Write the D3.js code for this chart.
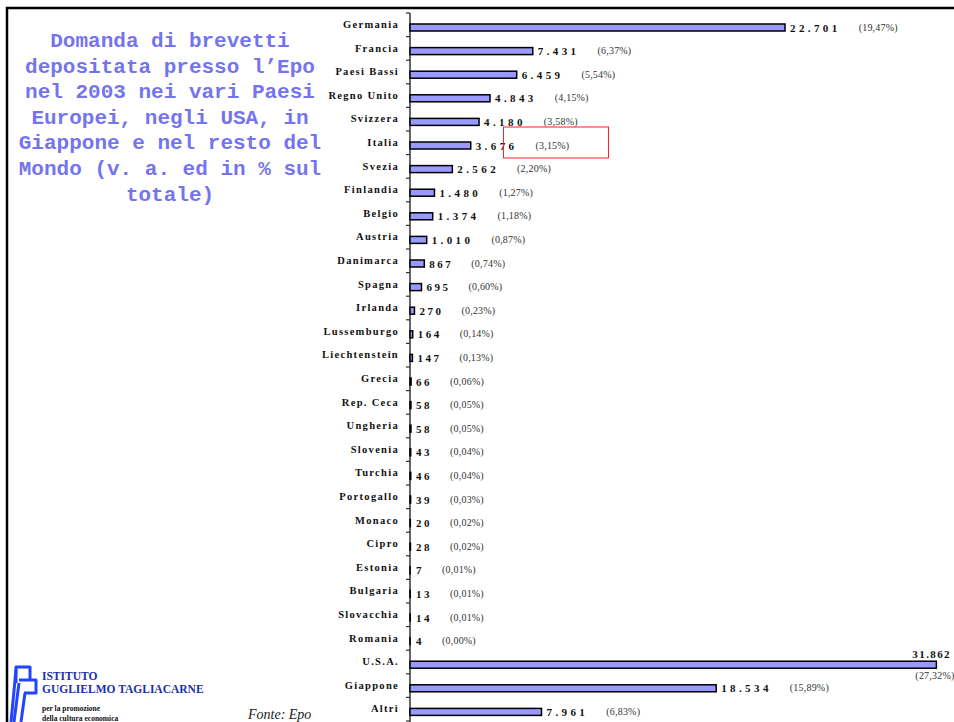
<!DOCTYPE html>
<html>
<head>
<meta charset="utf-8">
<script src="https://cdn.jsdelivr.net/npm/d3@7"></script>
<style>
  body {margin:0; background:#fff;}
  svg {display:block;}
</style>
</head>
<body>
<div id="chart"></div>
<script>

var width = 954, height = 722;

// categories (top to bottom) and values
var paesi = ["Germania","Francia","Paesi Bassi","Regno Unito","Svizzera","Italia","Svezia",
	"Finlandia","Belgio","Austria","Danimarca","Spagna","Irlanda","Lussemburgo","Liechtenstein",
	"Grecia","Rep. Ceca","Ungheria","Slovenia","Turchia","Portogallo","Monaco","Cipro",
	"Estonia","Bulgaria","Slovacchia","Romania","U.S.A.","Giappone","Altri"];

var domande = [22701,7431,6459,4843,4180,3676,2562,1480,1374,1010,867,695,270,164,147,
	66,58,58,43,46,39,20,28,7,13,14,4,31862,18534,7961];

var quote = [19.47,6.37,5.54,4.15,3.58,3.15,2.20,1.27,1.18,0.87,0.74,0.60,0.23,0.14,0.13,
	0.06,0.05,0.05,0.04,0.04,0.03,0.02,0.02,0.01,0.01,0.01,0.00,27.32,15.89,6.83];

var titolo = ["Domanda di brevetti","depositata presso l\u2019Epo","nel 2003 nei vari Paesi",
	"Europei, negli USA, in","Giappone e nel resto del","Mondo (v. a. ed in % sul","totale)"];

var evidenziato = "Italia";

var data = paesi.map(function(p,i){ return {paese:p, v:domande[i], q:quote[i]}; });

var it = d3.formatLocale({decimal:",", thousands:".", grouping:[3], currency:["","\u20ac"]});
var fmtV = it.format(",d"),
	fmtQ = it.format(".2f");

var x0 = 410,
	y0 = 13,
	step = 23.6;

var x = d3.scaleLinear()
	.domain([0, 32000])
	.range([x0, x0 + 32000*0.01652]);

var y = d3.scaleBand()
	.domain(paesi)
	.range([y0, y0 + step*paesi.length]);

var serif = "'Liberation Serif','Times New Roman',serif";

var svg = d3.select('#chart').append('svg')
	.attr('width',width)
	.attr('height',height)
	.style('background','#fff');

//---frame---
svg.append('path')
	.attr('d','M7,'+height+'V8H'+width)
	.style('fill','none')
	.style('stroke','#000')
	.style('stroke-width',2.5);

//---title---
svg.append('text')
	.attr('x',170)
	.attr('y',47)
	.style('font-family',"'Liberation Mono','Courier New',monospace")
	.style('font-weight','bold')
	.style('font-size','21px')
	.style('fill','#7474ee')
	.attr('text-anchor','middle')
	.selectAll('tspan')
	.data(titolo)
	.enter().append('tspan')
		.attr('x',170)
		.attr('dy',function(d,i){ return i==0 ? 0 : 25.6; })
		.text(function(d){ return d; });

//---ticks on the band edges---
svg.append('g').selectAll('line')
	.data(d3.range(paesi.length + 1))
	.enter().append('line')
		.attr('x1',x0-4)
		.attr('x2',x0)
		.attr('y1',function(i){ return y0 + i*y.step(); })
		.attr('y2',function(i){ return y0 + i*y.step(); })
		.style('stroke','#333')
		.style('stroke-width',1.2);

//---axis line---
svg.append('line')
	.attr('x1',x0).attr('x2',x0)
	.attr('y1',y0).attr('y2',height)
	.style('stroke','#333')
	.style('stroke-width',1.5);

//---category labels---
svg.append('g').selectAll('text')
	.data(data)
	.enter().append('text')
		.attr('x',x0-11)
		.attr('y',function(d){ return y(d.paese) + 15; })
		.attr('text-anchor','end')
		.style('font-family',serif)
		.style('font-weight','bold')
		.style('font-size','10.5px')
		.style('letter-spacing','1.3px')
		.style('fill','#111')
		.text(function(d){ return d.paese; });

//---bars---
svg.append('g').selectAll('rect')
	.data(data)
	.enter().append('rect')
		.attr('x',x(0))
		.attr('y',function(d){ return y(d.paese) + 11; })
		.attr('width',function(d){ return x(d.v) - x(0); })
		.attr('height',7)
		.style('fill','#9999ff')
		.style('stroke','#000')
		.style('stroke-width',1.5);

//---value and share labels---
var labels = svg.append('g');

data.forEach(function(d){
	var cy = y(d.paese) + 14.5,
		xe = x(d.v),
		fuori = xe + 80 > width;

	var tv = labels.append('text')
		.attr('x', fuori ? xe - 24 : Math.max(xe, x0 + 1) + 5)
		.attr('y', fuori ? cy - 7 : cy + 4)
		.style('font-family',serif)
		.style('font-weight','bold')
		.style('font-size','11px')
		.style('letter-spacing', fuori ? '1.4px' : (d.v < 1000 ? '2.5px' : '3.4px'))
		.style('fill','#111')
		.text(fmtV(d.v));

	var xq = fuori ? xe - 21 : +tv.attr('x') + tv.node().getComputedTextLength() + 18;

	labels.append('text')
		.attr('x',xq)
		.attr('y', fuori ? cy + 14 : cy + 3)
		.style('font-family',serif)
		.style('font-size','10px')
		.style('letter-spacing','0.2px')
		.style('fill','#333')
		.text('(' + fmtQ(d.q) + '%)');

	if (d.paese == evidenziato) {
		labels.append('rect')
			.attr('x',xq - 32)
			.attr('y',y(d.paese) - 4)
			.attr('width',105)
			.attr('height',31)
			.style('fill','none')
			.style('stroke','#ff2020')
			.style('stroke-width',1);
	}
});

//---source---
svg.append('text')
	.attr('x',248)
	.attr('y',719)
	.style('font-family',serif)
	.style('font-style','italic')
	.style('font-size','14px')
	.style('fill','#222')
	.text('Fonte: Epo');

//---logo---
var logo = svg.append('g')
	.style('fill','none')
	.style('stroke','#2244ff')
	.style('stroke-width',3)
	.style('stroke-linejoin','round');

logo.append('path').attr('d','M16,683V667H30V681');
logo.append('path').attr('d','M19,680H36V693H24');
logo.append('path').attr('d','M16,670L11,722');
logo.append('path').attr('d','M25,693L21,722');
logo.append('path').attr('d','M19,683L14,722');

var logoTxt = svg.append('g')
	.style('font-family',serif)
	.style('font-weight','bold');

logoTxt.append('text')
	.attr('x',42).attr('y',680)
	.style('font-size','11.5px')
	.style('fill','#1c30a8')
	.text('ISTITUTO');
logoTxt.append('text')
	.attr('x',42).attr('y',693)
	.style('font-size','11.5px')
	.style('fill','#1c30a8')
	.text('GUGLIELMO TAGLIACARNE');
logoTxt.append('text')
	.attr('x',42).attr('y',711)
	.style('font-size','7.5px')
	.style('fill','#111')
	.text('per la promozione');
logoTxt.append('text')
	.attr('x',42).attr('y',721)
	.style('font-size','7.5px')
	.style('fill','#111')
	.text('della cultura economica');

</script>
</body>
</html>
